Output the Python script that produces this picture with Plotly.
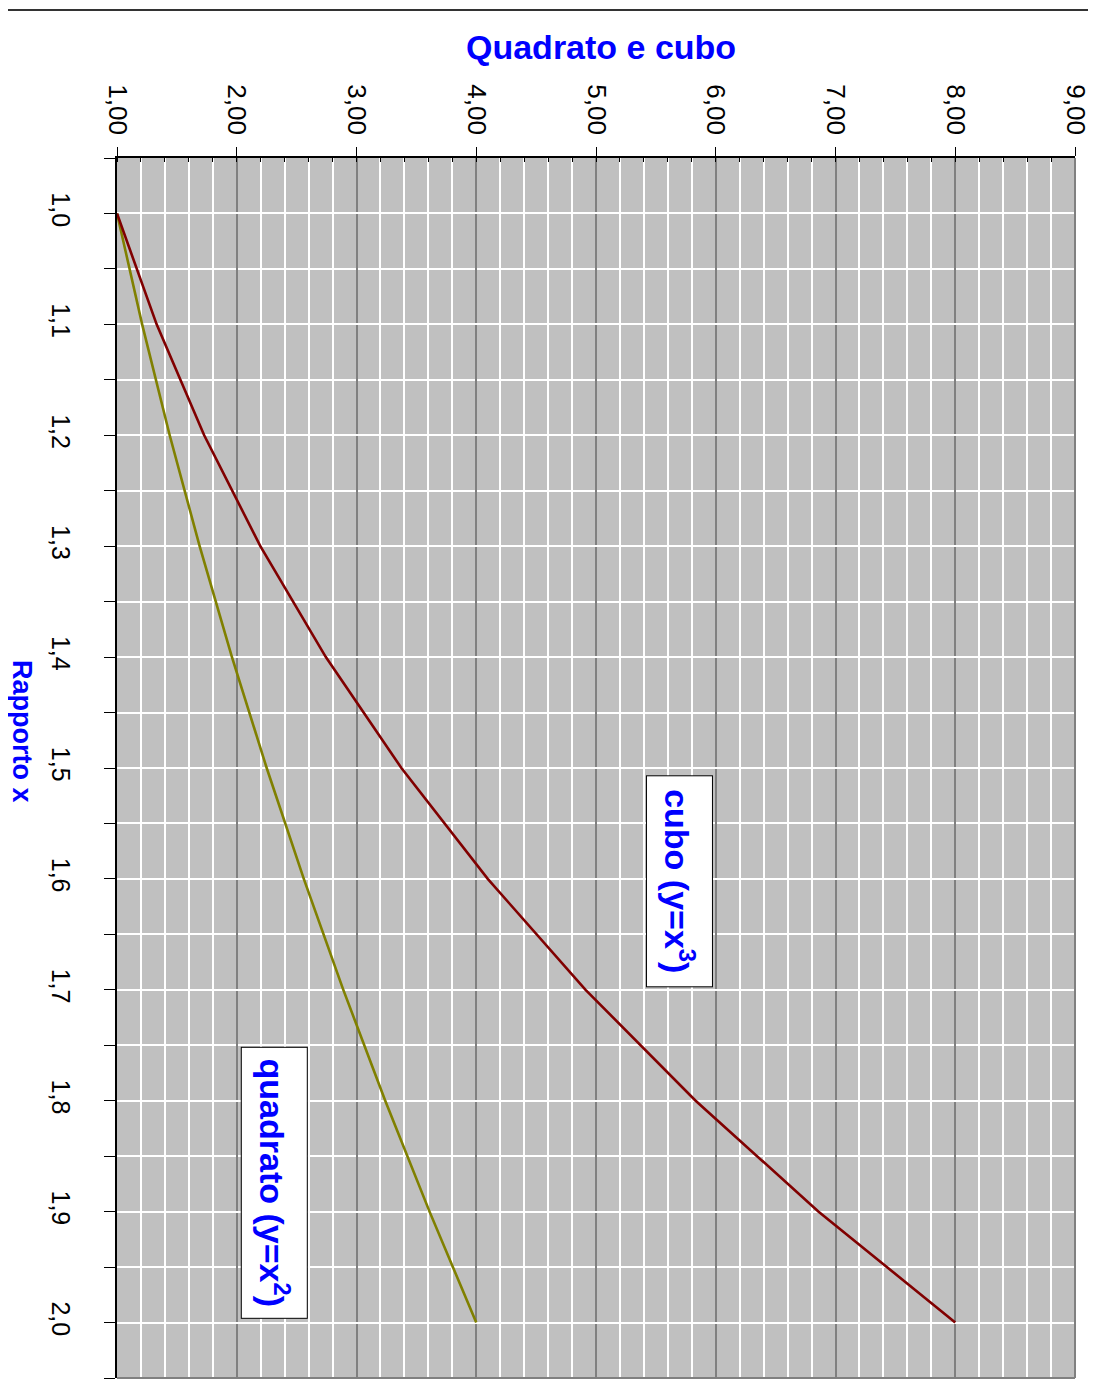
import plotly.graph_objects as go

# ---- data ----
rapporto = [1.0, 1.1, 1.2, 1.3, 1.4, 1.5, 1.6, 1.7, 1.8, 1.9, 2.0]
quadrato = [1.00, 1.21, 1.44, 1.69, 1.96, 2.25, 2.56, 2.89, 3.24, 3.61, 4.00]
cubo = [1.000, 1.331, 1.728, 2.197, 2.744, 3.375, 4.096, 4.913, 5.832, 6.859, 8.000]

value_ticks = [1, 2, 3, 4, 5, 6, 7, 8, 9]
value_labels = ["1,00", "2,00", "3,00", "4,00", "5,00", "6,00", "7,00", "8,00", "9,00"]
x_ticks = [1.0, 1.1, 1.2, 1.3, 1.4, 1.5, 1.6, 1.7, 1.8, 1.9, 2.0]
x_labels = ["1,0", "1,1", "1,2", "1,3", "1,4", "1,5", "1,6", "1,7", "1,8", "1,9", "2,0"]

FONT = "Liberation Sans, Arial, sans-serif"
BLUE = "#0000FF"

fig = go.Figure()
fig.add_trace(go.Scatter(x=quadrato, y=rapporto, mode="lines",
                         line=dict(color="#808000", width=2.6), name="quadrato"))
fig.add_trace(go.Scatter(x=cubo, y=rapporto, mode="lines",
                         line=dict(color="#800000", width=2.6), name="cubo"))

fig.update_layout(
    width=1080, height=1379,
    margin=dict(l=109, r=13, t=150, b=9, autoexpand=False),
    paper_bgcolor="white",
    plot_bgcolor="#C0C0C0",
    showlegend=False,
    font=dict(family=FONT, color="black"),
    xaxis=dict(
        side="top", range=[1, 9], tickmode="array",
        tickvals=value_ticks, ticktext=value_labels,
        tickangle=90, tickfont=dict(size=26, color="black"),
        ticks="outside", ticklen=9, tickwidth=1, tickcolor="black",
        ticklabelstandoff=3, ticklabeloverflow="allow", automargin=False,
        showgrid=True, gridcolor="#808080", gridwidth=1.5,
        showline=True, linecolor="black", linewidth=2,
        zeroline=False,
        minor=dict(dtick=0.2, tick0=1, showgrid=True, gridcolor="white", gridwidth=2,
                   ticks="inside", ticklen=4, tickcolor="black", tickwidth=1),
    ),
    yaxis=dict(
        range=[2.05, 0.95], tickmode="array",
        tickvals=x_ticks, ticktext=x_labels,
        tickangle=90, tickfont=dict(size=25, color="black"),
        ticks="outside", ticklen=11, tickwidth=1, tickcolor="black",
        ticklabelstandoff=22, ticklabeloverflow="allow", automargin=False,
        showgrid=True, gridcolor="white", gridwidth=2,
        showline=True, linecolor="black", linewidth=2,
        zeroline=False,
        minor=dict(dtick=0.05, tick0=0.95, showgrid=True, gridcolor="white", gridwidth=2,
                   ticks="outside", ticklen=11, tickcolor="black", tickwidth=1),
    ),
)

# right and bottom gray borders, top page rule
fig.add_shape(type="line", xref="x domain", yref="y domain", x0=1, x1=1, y0=0, y1=1,
              line=dict(color="#808080", width=2))
fig.add_shape(type="line", xref="x domain", yref="y domain", x0=0, x1=1, y0=0, y1=0,
              line=dict(color="#808080", width=2))
fig.add_shape(type="line", xref="paper", yref="paper",
              x0=-109/958, x1=(1080-109)/958, y0=(1378-10)/1220, y1=(1378-10)/1220,
              line=dict(color="#333333", width=2))

# titles
fig.add_annotation(text="Quadrato e cubo", xref="paper", yref="paper",
                   x=(601-117)/958, y=(1378-47)/1220, showarrow=False,
                   xanchor="center", yanchor="middle",
                   font=dict(size=34, color=BLUE, family=FONT, weight="bold"))
fig.add_annotation(text="Rapporto x", xref="paper", yref="paper",
                   x=(22-117)/958, y=(1378-731)/1220, showarrow=False,
                   xanchor="center", yanchor="middle", textangle=90,
                   height=28, borderpad=0,
                   font=dict(size=27, color=BLUE, family=FONT, weight="bold"))

# series labels
fig.add_annotation(text="cubo (y=x<sup>3</sup>)", x=5.70, y=1.602, xref="x", yref="y",
                   showarrow=False, textangle=90, width=190, height=45,
                   bgcolor="white", bordercolor="black", borderwidth=1, borderpad=10,
                   font=dict(size=34, color=BLUE, family=FONT, weight="bold"))
fig.add_annotation(text="quadrato (y=x<sup>2</sup>)", x=2.311, y=1.874, xref="x", yref="y",
                   showarrow=False, textangle=90, width=250, height=45,
                   bgcolor="white", bordercolor="black", borderwidth=1, borderpad=10,
                   font=dict(size=34, color=BLUE, family=FONT, weight="bold"))

fig.write_html("out.html")
